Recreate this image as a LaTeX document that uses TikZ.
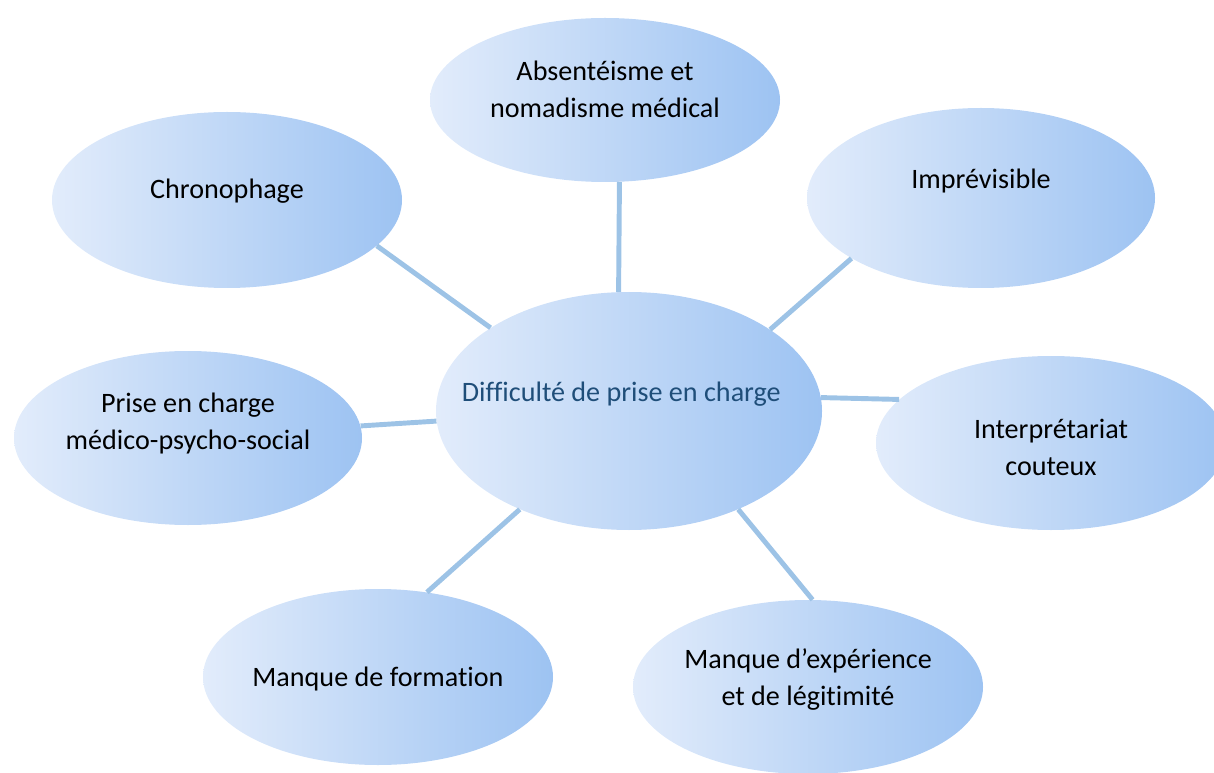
\documentclass[tikz,border=0pt]{standalone}
\usepackage{fontspec}
\setmainfont[Ligatures=CommonOff]{Carlito}
\usetikzlibrary{shapes.geometric}
\definecolor{ovalL}{HTML}{E2ECFB}
\definecolor{ovalR}{HTML}{9DC3F2}
\definecolor{lienbleu}{HTML}{9DC3E6}
\definecolor{titrebleu}{HTML}{1F4E79}
\renewcommand{\arraystretch}{1.1}
% texte centre sans agrandir l'ellipse, remonte de #1
\newcommand{\bulletexte}[2]{\makebox[0pt]{\raisebox{#1}[0pt][0pt]{\begin{tabular}{@{}c@{}}#2\end{tabular}}}}

\begin{document}
\begin{tikzpicture}
			[x=0.025cm, y=-0.025cm,
			 bulle/.style={ellipse, inner sep=0pt, left color=ovalL, right color=ovalR,
			   shading angle=90, font=\fontsize{20}{24}\selectfont},
			 lien/.style={draw=lienbleu, line width=3.5pt}]
			\useasboundingbox (0,0) rectangle (1214,773);
			% nodes %
			\node[bulle, minimum width=386*0.025cm, minimum height=238*0.025cm, text=titrebleu] (diff) at (629,411) {\bulletexte{6.5pt}{\hspace*{-11pt}Difficult\'e de prise en charge}};
			\node[bulle, minimum width=350*0.025cm, minimum height=164*0.025cm] (abs) at (605,100) {\bulletexte{0.5pt}{Absent\'eisme et\\nomadisme m\'edical}};
			\node[bulle, minimum width=350*0.025cm, minimum height=176*0.025cm] (chrono) at (227,200) {\bulletexte{1.5pt}{Chronophage}};
			\node[bulle, minimum width=348*0.025cm, minimum height=180*0.025cm] (imprev) at (981,198) {\bulletexte{7pt}{Impr\'evisible}};
			\node[bulle, minimum width=348*0.025cm, minimum height=174*0.025cm] (prise) at (188,438) {\bulletexte{5pt}{Prise en charge\\m\'edico-psycho-social}};
			\node[bulle, minimum width=350*0.025cm, minimum height=174*0.025cm] (interp) at (1051,443) {\bulletexte{-10pt}{Interpr\'etariat\\couteux}};
			\node[bulle, minimum width=350*0.025cm, minimum height=176*0.025cm] (form) at (378,677) {\bulletexte{-6.5pt}{Manque de formation}};
			\node[bulle, minimum width=350*0.025cm, minimum height=174*0.025cm] (exp) at (808,687) {\bulletexte{0pt}{Manque d’exp\'erience\\et de l\'egitimit\'e}};

			% edges %
			\draw[lien] (diff.95) -- (abs.-80);
			\draw[lien] (diff.149) -- (chrono.-17);
			\draw[lien] (diff.30) -- (imprev.-155);
			\draw[lien] (diff.183) -- (prise.4);
			\draw[lien] (diff.4) -- (interp.164);
			\draw[lien] (diff.222) -- (form.60);
			\draw[lien] (diff.-42) -- (exp.87);
			\end{tikzpicture}
\end{document}
